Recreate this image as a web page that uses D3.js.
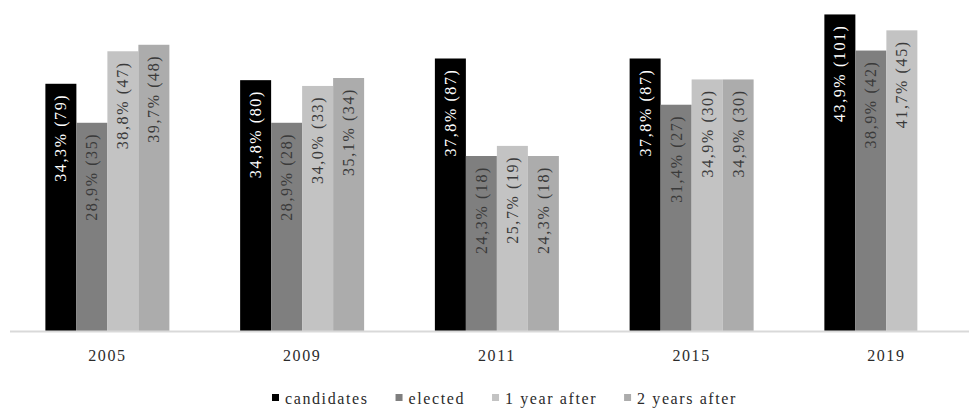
<!DOCTYPE html>
<html>
<head>
<meta charset="utf-8">
<script src="https://cdn.jsdelivr.net/npm/d3@7"></script>
<style>
  html, body { margin: 0; padding: 0; background: #fff; }
  svg { display: block; }
  text { font-family: "Liberation Serif", "Times New Roman", serif; }
</style>
</head>
<body>
<svg id="chart" width="969" height="409"></svg>
<script>
const years = ["2005", "2009", "2011", "2015", "2019"];
const seriesNames = ["candidates", "elected", "1 year after", "2 years after"];
const seriesColors = ["#000000", "#7f7f7f", "#c3c3c3", "#acacac"];
const labelColors = ["#ffffff", "#3a3a3a", "#3a3a3a", "#3a3a3a"];

const candidatesPct = [34.3, 34.8, 37.8, 37.8, 43.9];
const candidatesN   = [79, 80, 87, 87, 101];
const electedPct    = [28.9, 28.9, 24.3, 31.4, 38.9];
const electedN      = [35, 28, 18, 27, 42];
const oneYearPct    = [38.8, 34.0, 25.7, 34.9, 41.7];
const oneYearN      = [47, 33, 19, 30, 45];
const twoYearsPct   = [39.7, 35.1, 24.3, 34.9, null];
const twoYearsN     = [48, 34, 18, 30, null];

const pctSeries = [candidatesPct, electedPct, oneYearPct, twoYearsPct];
const nSeries = [candidatesN, electedN, oneYearN, twoYearsN];

const svg = d3.select("#chart");

const x0 = d3.scaleBand().domain(years).range([10, 983.75])
  .paddingInner(0.3633).paddingOuter(0.1817);
const x1 = d3.scaleBand().domain(seriesNames).range([0, x0.bandwidth()]).padding(0);
const y = d3.scaleLinear().domain([0, 45.9]).range([331.5, 0]);

const fmt = v => v.toFixed(1).replace(".", ",");

const data = [];
years.forEach((yr, i) => {
  seriesNames.forEach((s, j) => {
    const v = pctSeries[j][i];
    if (v != null) data.push({ year: yr, series: s, j, v, n: nSeries[j][i] });
  });
});

// bars
svg.append("g").selectAll("rect").data(data).join("rect")
  .attr("x", d => x0(d.year) + x1(d.series))
  .attr("y", d => y(d.v))
  .attr("width", x1.bandwidth())
  .attr("height", d => y(0) - y(d.v))
  .attr("fill", d => seriesColors[d.j]);

// baseline axis
const xAxis = d3.axisBottom(x0).tickSize(0).tickPadding(18);
const ax = svg.append("g").attr("transform", `translate(0,${y(0)})`).call(xAxis);
ax.select(".domain").remove();
ax.selectAll("text")
  .attr("font-size", 16)
  .attr("fill", "#2b2b2b")
  .style("letter-spacing", "1.6px")
  .style("font-family", '"Liberation Serif", "Times New Roman", serif');
svg.append("line")
  .attr("x1", 10).attr("x2", 969)
  .attr("y1", y(0)).attr("y2", y(0))
  .attr("stroke", "#d9d9d9").attr("stroke-width", 2);

// value labels
svg.append("g").selectAll("text").data(data).join("text")
  .attr("transform", d => {
    const cx = x0(d.year) + x1(d.series) + x1.bandwidth() / 2;
    const ty = y(d.v) + 10;
    return `translate(${cx},${ty}) rotate(-90)`;
  })
  .attr("text-anchor", "end")
  .attr("dy", "0.35em")
  .attr("font-size", 16)
  .style("letter-spacing", "1.6px")
  .attr("fill", d => labelColors[d.j])
  .text(d => `${fmt(d.v)}% (${d.n})`);

// legend
const legend = svg.append("g").attr("transform", "translate(272,404)");
let lx = 0;
seriesNames.forEach((s, j) => {
  const g = legend.append("g").attr("transform", `translate(${lx},0)`);
  g.append("rect").attr("x", 0).attr("y", -10).attr("width", 7).attr("height", 7)
    .attr("fill", seriesColors[j]);
  const t = g.append("text").attr("x", 13).attr("y", 0)
    .attr("font-size", 16).attr("fill", "#2b2b2b")
    .style("letter-spacing", "1.6px")
    .text(s);
  lx += 13 + t.node().getComputedTextLength() + 27;
});
</script>
</body>
</html>
